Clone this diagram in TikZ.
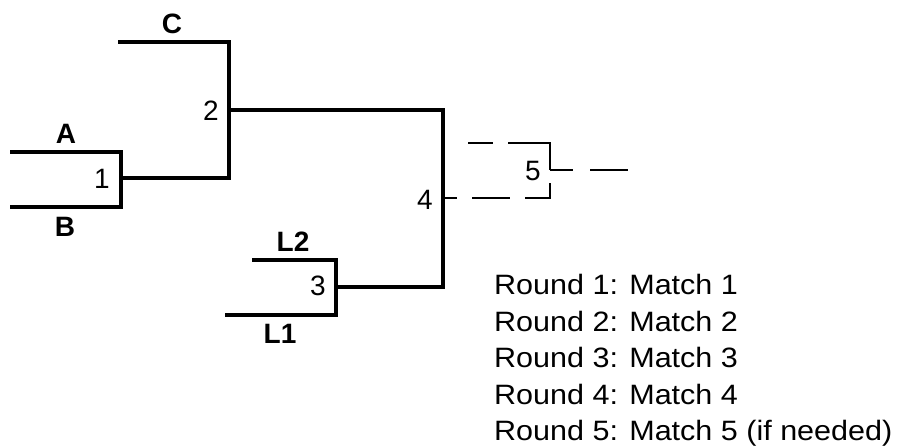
\documentclass[tikz,border=0pt]{standalone}
\usepackage{fontspec}
\setmainfont{Liberation Sans}
\newfontfamily\legendfont[FakeStretch=1.09]{Liberation Sans}
\begin{document}
\begin{tikzpicture}[x=1pt,y=-1pt,
  bracket/.style={line width=4.2pt, line join=miter},
  dashline/.style={line width=1.6pt},
  team/.style={font=\fontsize{28}{28}\selectfont\bfseries, inner sep=0pt, anchor=base},
  num/.style={font=\fontsize{28}{28}\selectfont, inner sep=0pt},
  legend/.style={font=\legendfont\fontsize{28}{28}\selectfont, inner sep=0pt, anchor=base west}]
\fill[white] (0,0) rectangle (899,446);
\useasboundingbox (0,0) rectangle (899,446);
% bracket corner coordinates
\coordinate (cS) at (118,42);
\coordinate (cE) at (229,42);
\coordinate (aS) at (10,152);
\coordinate (aE) at (121,152);
\coordinate (bS) at (10,207);
\coordinate (bE) at (121,207);
\coordinate (w1) at (121,178);
\coordinate (j2) at (229,178);
\coordinate (w2) at (229,110);
\coordinate (j4a) at (443,110);
\coordinate (l2S) at (252,260);
\coordinate (l2E) at (336,260);
\coordinate (l1S) at (225,315);
\coordinate (l1E) at (336,315);
\coordinate (w3) at (336,287);
\coordinate (j4b) at (443,287);
\coordinate (w4) at (443,198);
\coordinate (f5a) at (550,198);
\coordinate (f5S) at (468,143);
\coordinate (f5E) at (550,143);
\coordinate (w5) at (550,170);
\coordinate (out) at (628,170);
% solid brackets
\draw[bracket] (aS) -- (aE) -- (bE) -- (bS);
\draw[bracket] (w1) -- (j2) -- (cE) -- (cS);
\draw[bracket] (w2) -- (j4a) -- (j4b) -- (w3);
\draw[bracket] (l2S) -- (l2E) -- (l1E) -- (l1S);
% dashed match 5
\draw[dashline, dash pattern=on 0pt off 2pt on 12pt off 15pt on 38pt off 15pt on 40pt off 30pt] (w4) -- (f5a) -- (w5);
\draw[dashline, dash pattern=on 25pt off 15pt on 80pt] (f5S) -- (f5E) -- (w5);
\draw[dashline, dash pattern=on 23pt off 17pt on 40pt] (w5) -- (out);
% team labels
\node[team] (C) at (172,34) {C};
\node[team] (A) at (66,144) {A};
\node[team] (B) at (65,237) {B};
\node[team] (L2) at (293,252) {L2};
\node[team] (L1) at (280,343) {L1};
% match numbers
\node[num] (m1) at (102,179) {1};
\node[num] (m2) at (211,111) {2};
\node[num] (m3) at (318,286) {3};
\node[num] (m4) at (425,200) {4};
\node[num] (m5) at (533,171) {5};
% legend
\node[legend] (r1) at (494,294.5) {Round 1: Match 1};
\node[legend] (r2) at (494,331) {Round 2: Match 2};
\node[legend] (r3) at (494,367.5) {Round 3: Match 3};
\node[legend] (r4) at (494,404) {Round 4: Match 4};
\node[legend] (r5) at (494,440) {Round 5: Match 5 (if needed)};
\end{tikzpicture}
\end{document}
